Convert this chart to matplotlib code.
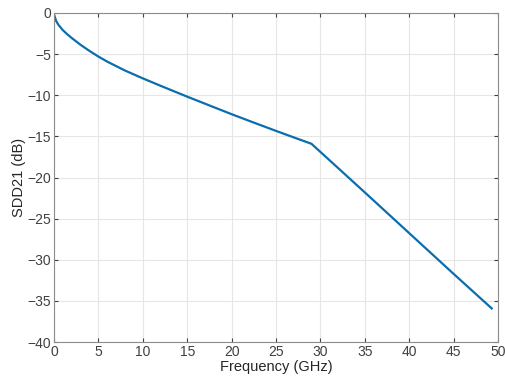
import matplotlib
matplotlib.use("Agg")
import matplotlib.pyplot as plt

# values
freq_ghz = [0, 0.25, 0.5, 1, 1.5, 2, 3, 4, 5, 6, 8, 10, 12, 15, 18, 20,
            22, 25, 27, 29, 35, 40, 45, 49.3]
sdd21_db = [-0.2, -1.0, -1.45, -2.1, -2.6, -3.05, -3.88, -4.62, -5.3, -5.92,
            -7.0, -7.95, -8.85, -10.17, -11.45, -12.3, -13.12, -14.33, -15.12,
            -15.9, -21.8, -26.75, -31.7, -35.9]
x_ticks = list(range(0, 55, 5))
y_ticks = list(range(-40, 5, 5))

plt.rcParams['font.family'] = ['Liberation Sans', 'DejaVu Sans']

fig = plt.figure(figsize=(5.05, 3.81), dpi=100)
ax = fig.add_axes([0.107, 0.102, 0.879, 0.864])

ax.plot(freq_ghz, sdd21_db, color='#0a6eae', linewidth=1.6)

ax.set_xlim(0, 50)
ax.set_ylim(-40, 0)
ax.set_xticks(x_ticks)
ax.set_yticks(y_ticks)
ax.grid(True, color='#e6e6e6', linewidth=0.8)
ax.tick_params(direction='in', top=True, right=True, length=3,
               labelsize=10, colors='#404040', pad=2)
for s in ax.spines.values():
    s.set_color('#8c8c8c')
    s.set_linewidth(0.8)

ax.set_xlabel('Frequency (GHz)', fontsize=10.5, color='#262626', labelpad=1)
ax.set_ylabel('SDD21 (dB)', fontsize=10.5, color='#262626', labelpad=1)

plt.savefig('out.png', dpi=100)
